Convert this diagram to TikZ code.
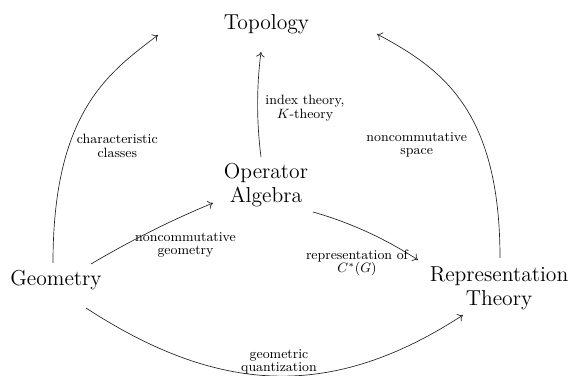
\documentclass[tikz,border=0pt]{standalone}
\usetikzlibrary{arrows.meta,calc}
\begin{document}
\begin{tikzpicture}[x=0.6667pt,y=-0.6667pt,
  main/.style={font=\fontsize{14.4}{16}\selectfont, align=center, inner sep=0pt},
  lbl/.style={font=\fontsize{9}{9}\selectfont, align=center, inner sep=0pt},
  conn/.style={draw=black!85, line width=0.45pt, -{To[length=3.4pt,width=5.8pt]}}]
\useasboundingbox (0,0) rectangle (572,376);
\node[main,anchor=base] (topo) at (266.5,30) {Topology};
\node[main] (op) at (266,185) {Operator\\Algebra};
\node[main,anchor=base] (geo) at (56,286) {Geometry};
\node[main] (rep) at (499,288.6) {Representation\\Theory};

\draw[conn] ($(geo.base)+(-3,-23)$) .. controls (53,110) and (110,72) .. ($(topo.base)+(-108.5,5)$);
\draw[conn] ($(op.center)+(-5,-28)$) .. controls (256.5,122) and (256.5,87) .. ($(topo.base)+(-5.5,22)$);
\draw[conn] ($(rep.center)+(1,-30.6)$) .. controls (500,108) and (440,68) .. ($(topo.base)+(110.5,4)$);
\draw[conn] ($(geo.base)+(35,-22)$) .. controls (130.2,240.8) and (170.8,220.4) .. ($(op.center)+(-53,18)$);
\draw[conn] ($(op.center)+(47,27)$) .. controls (350,222.5) and (385,238.5) .. ($(rep.center)+(-81,-28.6)$);
\draw[conn] ($(geo.base)+(30,22)$) .. controls (218,394) and (331,401) .. ($(rep.center)+(-36,26.4)$);

\node[lbl] (lcc) at (117.3,146) {characteristic\\classes};
\node[lbl] (lit) at (305,108) {index theory,\\$K$-theory};
\node[lbl] (lns) at (416.7,145) {noncommutative\\space};
\node[lbl] (lng) at (185.5,245) {noncommutative\\geometry};
\node[lbl] (lrc) at (357,263) {representation of\\$C^*(G)$};
\node[lbl] (lgq) at (279,362) {geometric\\quantization};
\end{tikzpicture}
\end{document}
